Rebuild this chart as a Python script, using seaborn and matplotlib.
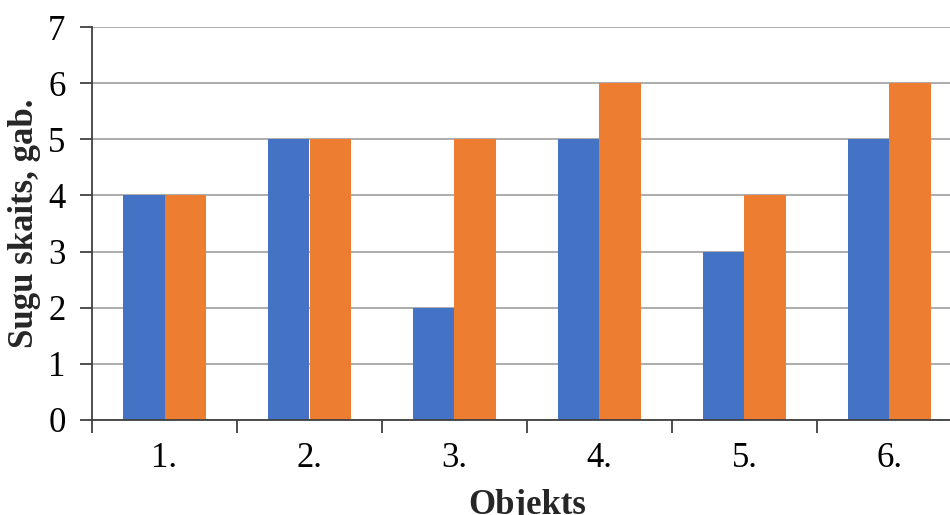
import matplotlib
matplotlib.use("Agg")
import matplotlib.pyplot as plt
import seaborn as sns
import pandas as pd
import numpy as np

categories = ["1.", "2.", "3.", "4.", "5.", "6."]
series_a = [4, 5, 2, 5, 3, 5]
series_b = [4, 5, 5, 6, 4, 6]
series_names = ["A", "B"]
yticks = [0, 1, 2, 3, 4, 5, 6, 7]

df = pd.DataFrame({
    "Objekts": categories * 2,
    "value": series_a + series_b,
    "series": [series_names[0]] * len(categories) + [series_names[1]] * len(categories),
})

sns.set_theme(style="white")
plt.rcParams["font.family"] = ["Liberation Serif", "DejaVu Serif"]

fig = plt.figure(figsize=(9.5, 5.15), dpi=100)
ax = fig.add_axes([92 / 950, 95 / 515, 870 / 950, 393 / 515])

sns.barplot(data=df, x="Objekts", y="value", hue="series",
            palette=["#4472C4", "#ED7D31"], width=0.566, ax=ax,
            legend=False, saturation=1, edgecolor="none", linewidth=0)

ax.set_xlim(-0.5, len(categories) - 0.5)
ax.set_ylim(0, 7)
ax.set_yticks(yticks)
ax.set_yticklabels([str(t) for t in yticks])
ax.yaxis.grid(True, color="#A6A6A6", linewidth=1.3)
ax.set_axisbelow(True)

for s in ["top", "right"]:
    ax.spines[s].set_visible(False)
for s in ["left", "bottom"]:
    ax.spines[s].set_color("#404040")
    ax.spines[s].set_linewidth(1.3)

ax.set_xticks(np.arange(-0.5, len(categories), 1.0), minor=True)
ax.tick_params(axis="x", which="major", bottom=False, length=0, labelsize=25, pad=16, colors="black")
ax.tick_params(axis="x", which="minor", bottom=True, length=9, width=1.3, color="#404040", direction="out")
ax.tick_params(axis="y", which="major", left=True, length=9, width=1.3, color="#404040",
               labelsize=25, pad=10, labelcolor="black", direction="out")

ax.set_xlabel("Objekts", fontsize=25, fontweight="bold", labelpad=10)
ax.set_ylabel("Sugu skaits, gab.", fontsize=25, fontweight="bold", labelpad=5)

fig.savefig("out.png", dpi=100)
